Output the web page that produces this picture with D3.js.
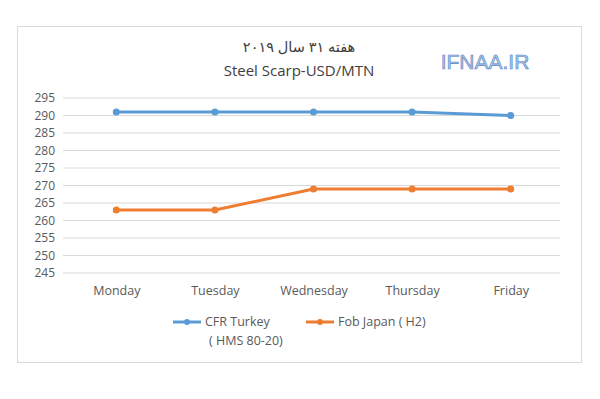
<!DOCTYPE html>
<html>
<head>
<meta charset="utf-8">
<script src="https://cdn.jsdelivr.net/npm/d3@7"></script>
<style>
  body { margin: 0; background: #fff; }
  text { font-family: "Open Sans", "Liberation Sans", sans-serif; }
</style>
</head>
<body>
<div id="chart"></div>
<script>
var days = ["Monday", "Tuesday", "Wednesday", "Thursday", "Friday"];
var cfrTurkey = [291, 291, 291, 291, 290];
var fobJapan = [263, 263, 269, 269, 269];
var yTicks = [245, 250, 255, 260, 265, 270, 275, 280, 285, 290, 295];

var width = 600, height = 399;
var margin = { left: 67, right: 40, top: 98, bottom: 126 };
var innerW = width - margin.left - margin.right;
var innerH = height - margin.top - margin.bottom;

var svg = d3.select("#chart")
    .append("svg")
    .attr("width", width)
    .attr("height", height);

// chart frame
svg.append("rect")
    .attr("x", 17.5).attr("y", 26.5)
    .attr("width", 564).attr("height", 336)
    .attr("fill", "#fff")
    .attr("stroke", "#d9d9d9");

var g = svg.append("g")
    .attr("transform", "translate(" + margin.left + "," + margin.top + ")");

var x = d3.scalePoint().domain(days).range([0, innerW]).padding(0.5);
var y = d3.scaleLinear().domain([245, 295]).range([innerH, 0]);

// gridlines
g.selectAll(".grid")
    .data(yTicks)
    .enter().append("line")
    .attr("class", "grid")
    .attr("x1", -4).attr("x2", innerW)
    .attr("y1", function(d) { return y(d); })
    .attr("y2", function(d) { return y(d); })
    .attr("stroke", "#d9d9d9")
    .attr("stroke-width", 1);

// y labels
var yAxis = d3.axisLeft(y).tickValues(yTicks).tickSize(0).tickPadding(12);
g.append("g").call(yAxis)
    .call(function(a) { a.select(".domain").remove(); })
    .selectAll("text")
    .attr("fill", "#595959")
    .attr("font-size", "12px");

// x labels
var xAxis = d3.axisBottom(x).tickSize(0).tickPadding(13);
g.append("g")
    .attr("transform", "translate(0," + innerH + ")")
    .call(xAxis)
    .call(function(a) { a.select(".domain").remove(); })
    .selectAll("text")
    .attr("fill", "#595959")
    .attr("font-size", "12.5px");

var line = d3.line()
    .x(function(d, i) { return x(days[i]); })
    .y(function(d) { return y(d); });

var series = [
    { values: cfrTurkey, color: "#5b9bd5" },
    { values: fobJapan, color: "#ed7d31" }
];

series.forEach(function(s) {
    g.append("path")
        .attr("d", line(s.values))
        .attr("fill", "none")
        .attr("stroke", s.color)
        .attr("stroke-width", 3)
        .attr("stroke-linejoin", "round");
    g.selectAll(null)
        .data(s.values)
        .enter().append("circle")
        .attr("cx", function(d, i) { return x(days[i]); })
        .attr("cy", function(d) { return y(d); })
        .attr("r", 3.5)
        .attr("fill", s.color);
});

// titles
svg.append("text")
    .attr("x", 299).attr("y", 52)
    .attr("text-anchor", "middle")
    .attr("font-size", "14.5px")
    .attr("fill", "#404040")
    .attr("direction", "rtl")
    .style("font-family", "'Noto Sans', 'DejaVu Sans', sans-serif")
    .text("هفته ۳۱ سال ۲۰۱۹");

svg.append("text")
    .attr("x", 299).attr("y", 76)
    .attr("text-anchor", "middle")
    .attr("font-size", "15px")
    .attr("fill", "#404040")
    .text("Steel Scarp-USD/MTN");

// watermark
svg.append("text")
    .attr("x", 485).attr("y", 69)
    .attr("text-anchor", "middle")
    .attr("font-size", "21px")
    .attr("fill", "#a9c6ea")
    .attr("stroke", "#5b83c0")
    .attr("stroke-width", 0.6)
    .style("font-family", "'Liberation Sans', sans-serif")
    .text("IFNAA.IR");

// legend
var legend = [
    { lines: ["CFR Turkey", "( HMS 80-20)"], color: "#5b9bd5", x: 173 },
    { lines: ["Fob Japan ( H2)"], color: "#ed7d31", x: 306 }
];
legend.forEach(function(l) {
    var lg = svg.append("g").attr("transform", "translate(" + l.x + ",322)");
    lg.append("line")
        .attr("x1", 0).attr("x2", 28)
        .attr("stroke", l.color).attr("stroke-width", 3);
    lg.append("circle").attr("cx", 14).attr("r", 3).attr("fill", l.color);
    l.lines.forEach(function(t, i) {
        lg.append("text")
            .attr("x", i === 0 ? 32 : 36)
            .attr("y", 4 + i * 19)
            .attr("font-size", "12.5px")
            .attr("fill", "#595959")
            .text(t);
    });
});
</script>
</body>
</html>
